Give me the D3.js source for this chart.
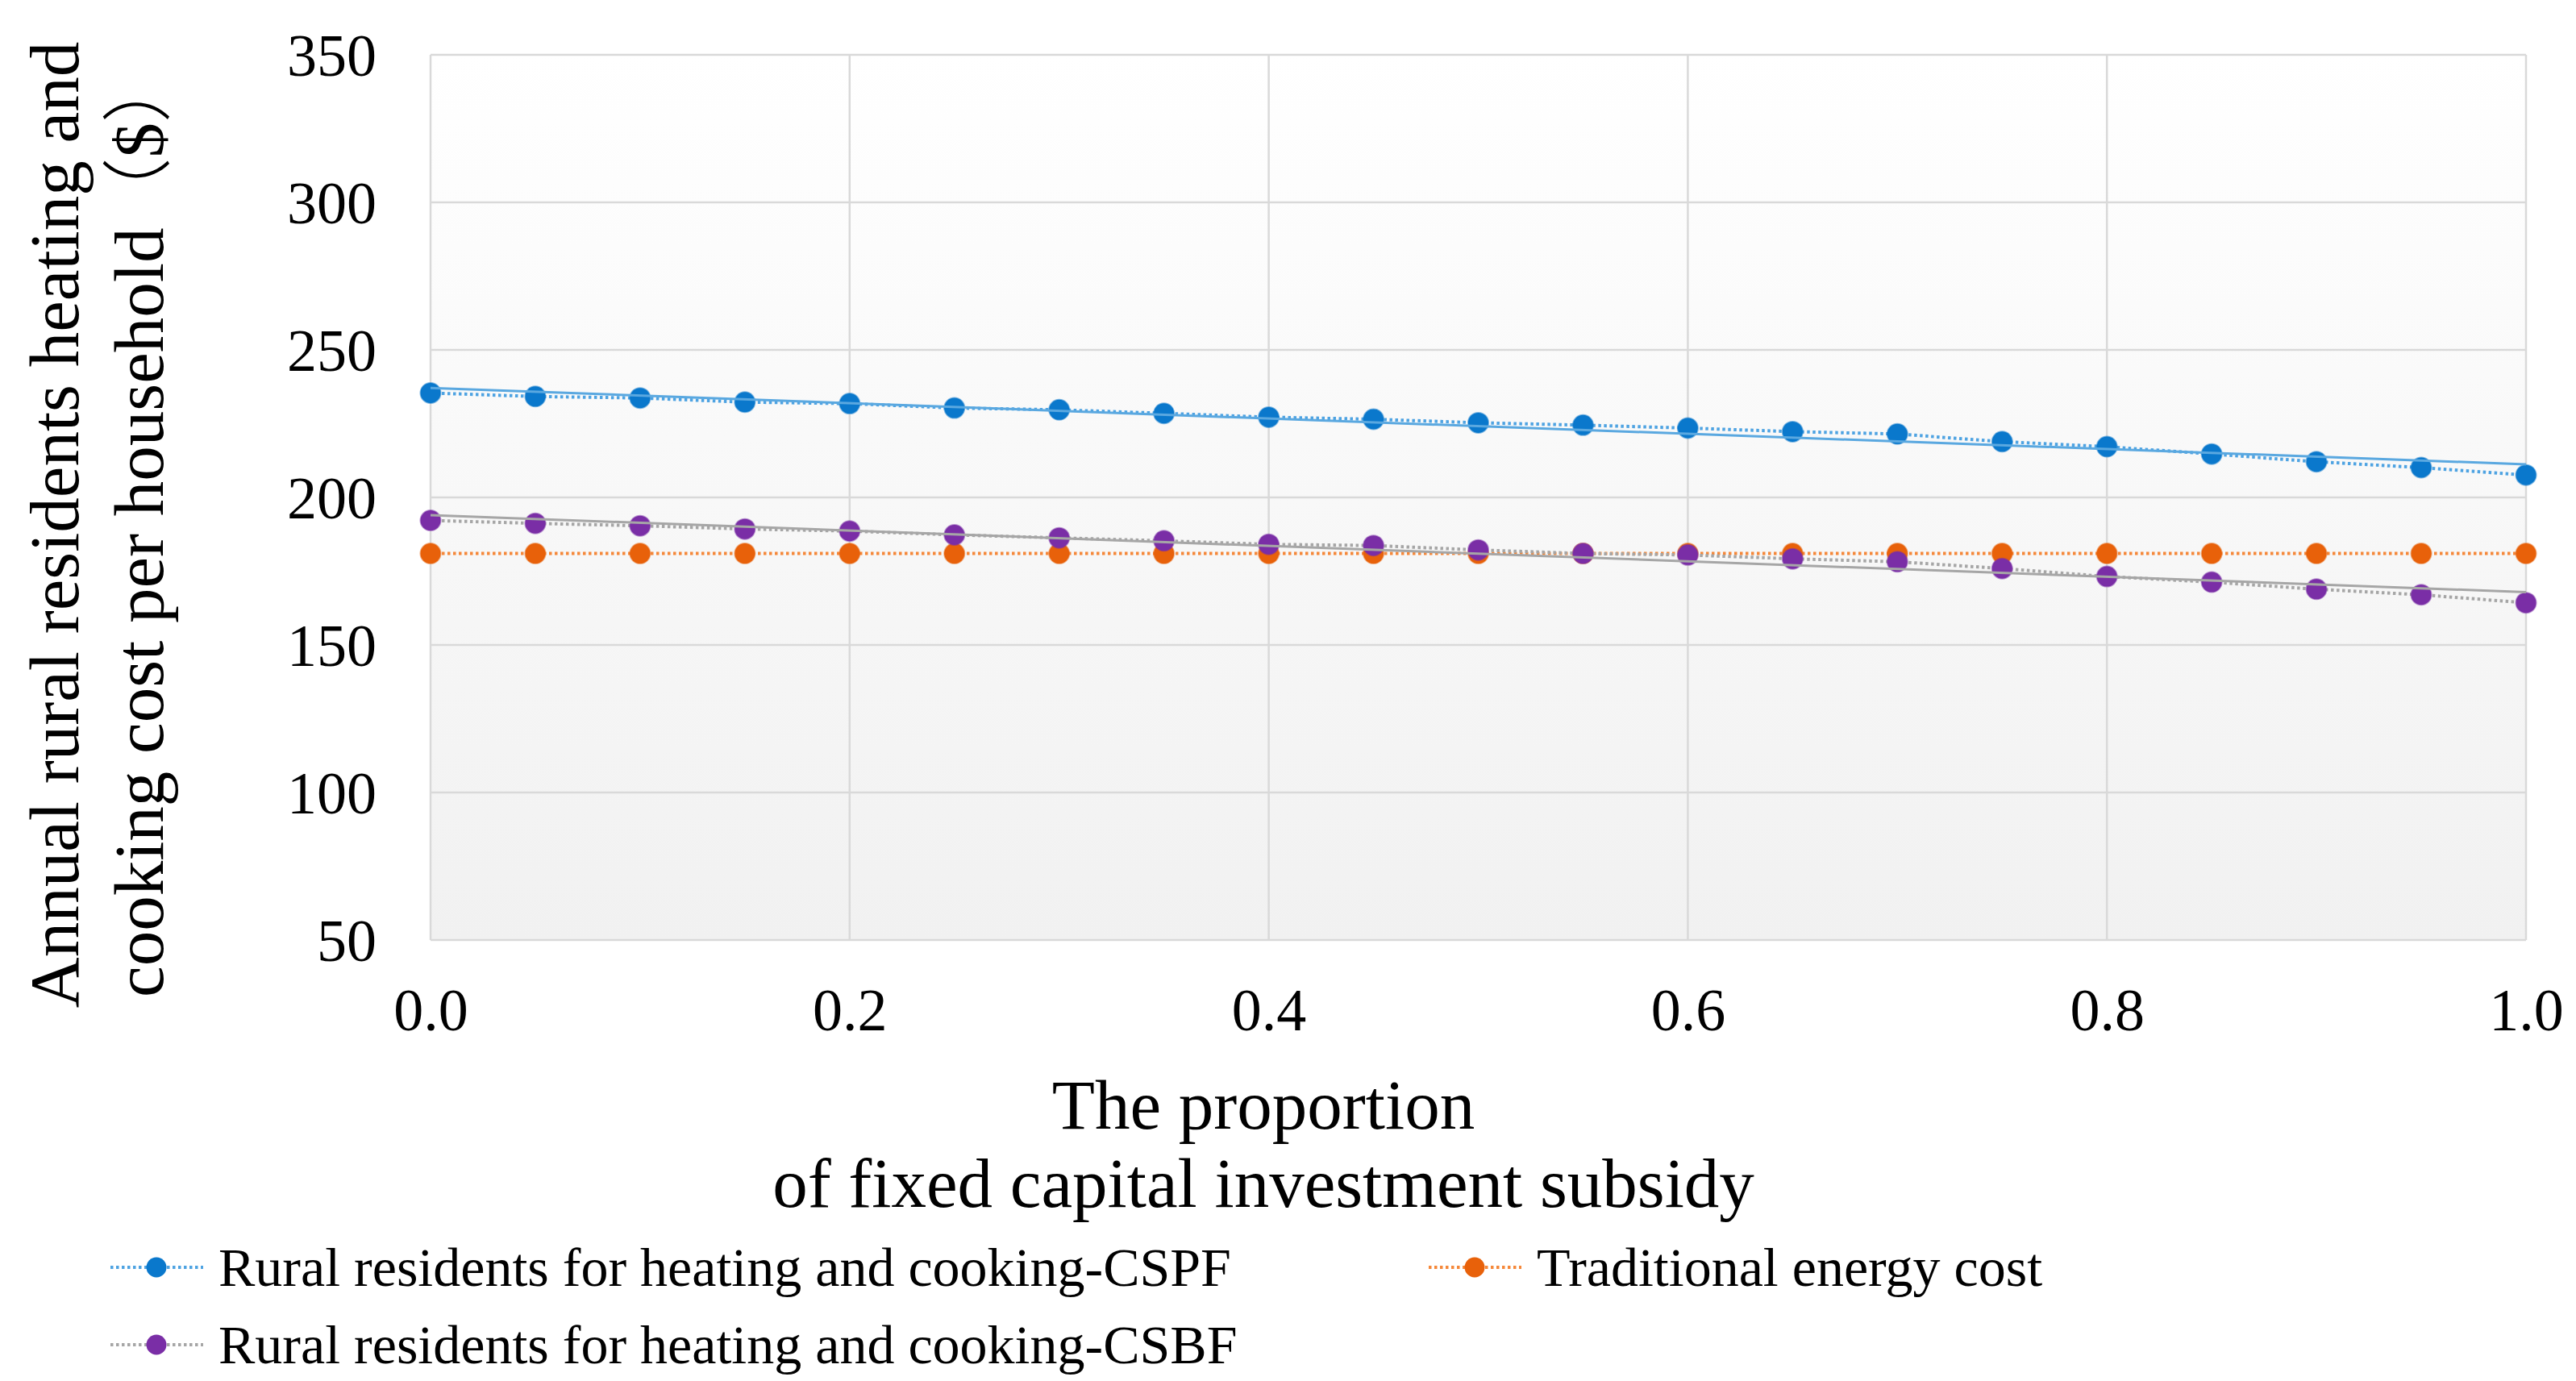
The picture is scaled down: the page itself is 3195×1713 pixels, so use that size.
<!DOCTYPE html>
<html>
<head>
<meta charset="utf-8">
<script src="https://cdn.jsdelivr.net/npm/d3@7"></script>
<style>
  body { margin: 0; background: #fff; }
  svg text { font-family: "Liberation Serif", "Times New Roman", serif; fill: #000; }
</style>
</head>
<body>
<div id="chart"></div>
<script>
// proportion of fixed capital investment subsidy
const subsidy = [0, 0.05, 0.1, 0.15, 0.2, 0.25, 0.3, 0.35, 0.4, 0.45, 0.5,
  0.55, 0.6, 0.65, 0.7, 0.75, 0.8, 0.85, 0.9, 0.95, 1.0];

const cspf = [235.4, 234.2, 233.7, 232.3, 231.8, 230.3, 229.7, 228.5, 227.2, 226.5, 225.3,
  224.5, 223.5, 222.3, 221.5, 218.9, 217.2, 214.7, 212.1, 210.1, 207.6];

const traditional = [181, 181, 181, 181, 181, 181, 181, 181, 181, 181, 181,
  181, 181, 181, 181, 181, 181, 181, 181, 181, 181];

const csbf = [192.2, 191.2, 190.4, 189.3, 188.6, 187.3, 186.3, 185.3, 184.1, 183.7, 182.2,
  181.0, 180.5, 179.2, 178.2, 175.9, 173.2, 171.3, 168.9, 167.0, 164.3];

const yTicks = [50, 100, 150, 200, 250, 300, 350];
const xTicks = [0, 0.2, 0.4, 0.6, 0.8, 1.0];

const seriesNames = [
  'Rural residents for heating and cooking-CSPF',
  'Traditional energy cost',
  'Rural residents for heating and cooking-CSBF'
];

const W = 3195, H = 1713;
const plot = { left: 534, right: 3133, top: 68, bottom: 1166 };

const svg = d3.select('#chart').append('svg')
  .attr('width', W)
  .attr('height', H);

const x = d3.scaleLinear().domain([0, 1]).range([plot.left, plot.right]);
const y = d3.scaleLinear().domain([50, 350]).range([plot.bottom, plot.top]);

// plot area background gradient
const defs = svg.append('defs');
const grad = defs.append('linearGradient')
  .attr('id', 'bg').attr('x1', 0).attr('y1', 0).attr('x2', 0).attr('y2', 1);
grad.append('stop').attr('offset', '0%').attr('stop-color', '#ffffff');
grad.append('stop').attr('offset', '100%').attr('stop-color', '#f1f1f1');

svg.append('rect')
  .attr('x', plot.left).attr('y', plot.top)
  .attr('width', plot.right - plot.left)
  .attr('height', plot.bottom - plot.top)
  .attr('fill', 'url(#bg)');

// gridlines
svg.append('g').selectAll('line')
  .data(yTicks).enter().append('line')
  .attr('x1', plot.left).attr('x2', plot.right)
  .attr('y1', d => y(d)).attr('y2', d => y(d))
  .attr('stroke', '#d9d9d9').attr('stroke-width', 2.5);

svg.append('g').selectAll('line')
  .data(xTicks).enter().append('line')
  .attr('x1', d => x(d)).attr('x2', d => x(d))
  .attr('y1', plot.top).attr('y2', plot.bottom)
  .attr('stroke', '#d9d9d9').attr('stroke-width', 2.5);

// axes (labels only)
const yAxis = svg.append('g')
  .attr('transform', `translate(${plot.left - 67},0)`)
  .call(d3.axisLeft(y).tickValues(yTicks).tickSize(0).tickPadding(0));
yAxis.select('.domain').remove();
yAxis.selectAll('text')
  .attr('font-size', 74)
  .attr('dy', '0.34em')
  .style('font-family', '"Liberation Serif", serif');

const xAxis = svg.append('g')
  .attr('transform', `translate(0,${plot.bottom})`)
  .call(d3.axisBottom(x).tickValues(xTicks).tickFormat(d3.format('.1f')).tickSize(0).tickPadding(0));
xAxis.select('.domain').remove();
xAxis.selectAll('text')
  .attr('font-size', 74)
  .attr('y', 112)
  .attr('dy', 0)
  .style('font-family', '"Liberation Serif", serif');

// axis titles
const xTitle = svg.append('text')
  .attr('text-anchor', 'middle')
  .attr('font-size', 87);
xTitle.append('tspan').attr('x', 1567).attr('y', 1400).text('The proportion');
xTitle.append('tspan').attr('x', 1567).attr('y', 1497).text('of fixed capital investment subsidy');

const yTitle = svg.append('text')
  .attr('text-anchor', 'middle')
  .attr('font-size', 87)
  .attr('transform', 'rotate(-90)');
yTitle.append('tspan').attr('x', -651).attr('y', 97).text('Annual rural residents heating and');
const l2 = yTitle.append('tspan').attr('x', -651).attr('y', 202);
l2.append('tspan').text('cooking cost per household');
l2.append('tspan').style('font-family', '"Noto Sans CJK SC"').style('font-weight', 300).text('（');
l2.append('tspan').text('$');
l2.append('tspan').style('font-family', '"Noto Sans CJK SC"').style('font-weight', 300).text('）');

// series
const series = [
  { name: seriesNames[0], values: cspf, marker: '#0a78cc', line: '#4ea3e2', trend: '#5aa8e0' },
  { name: seriesNames[1], values: traditional, marker: '#e8610a', line: '#f5883a', trend: null },
  { name: seriesNames[2], values: csbf, marker: '#7a2ea6', line: '#a6a6a6', trend: '#a6a6a6' }
];

const line = d3.line()
  .x((d, i) => x(subsidy[i]))
  .y(d => y(d));

series.forEach(s => {
  svg.append('path')
    .datum(s.values)
    .attr('d', line)
    .attr('fill', 'none')
    .attr('stroke', s.line)
    .attr('stroke-width', 4)
    .attr('stroke-dasharray', '3.5 3.5');

  svg.append('g').selectAll('circle')
    .data(s.values).enter().append('circle')
    .attr('cx', (d, i) => x(subsidy[i]))
    .attr('cy', d => y(d))
    .attr('r', 12.5)
    .attr('fill', s.marker)
    .attr('stroke', s.marker)
    .attr('stroke-opacity', 0.5)
    .attr('stroke-width', 2);
});

// linear trendlines (least squares over the plotted points)
function fit(values) {
  const n = values.length;
  const mx = d3.mean(subsidy), my = d3.mean(values);
  let sxy = 0, sxx = 0;
  for (let i = 0; i < n; i++) {
    sxy += (subsidy[i] - mx) * (values[i] - my);
    sxx += (subsidy[i] - mx) * (subsidy[i] - mx);
  }
  const b = sxy / sxx;
  return [[0, my - b * mx], [1, my + b * (1 - mx)]];
}

series.filter(s => s.trend).forEach(s => {
  const pts = fit(s.values);
  svg.append('line')
    .attr('x1', x(pts[0][0])).attr('y1', y(pts[0][1]))
    .attr('x2', x(pts[1][0])).attr('y2', y(pts[1][1]))
    .attr('stroke', s.trend)
    .attr('stroke-width', 3);
});

// legend
const legendItems = [
  { s: series[0], x: 137, y: 1572 },
  { s: series[1], x: 1772, y: 1572 },
  { s: series[2], x: 137, y: 1668 }
];

const lg = svg.append('g').selectAll('g')
  .data(legendItems).enter().append('g')
  .attr('transform', d => `translate(${d.x},${d.y})`);

lg.append('line')
  .attr('x1', 0).attr('x2', 115)
  .attr('y1', 0).attr('y2', 0)
  .attr('stroke', d => d.s.line)
  .attr('stroke-width', 4)
  .attr('stroke-dasharray', '3.5 3.5');

lg.append('circle')
  .attr('cx', 57).attr('cy', 0).attr('r', 12.5)
  .attr('fill', d => d.s.marker);

lg.append('text')
  .attr('x', 134)
  .attr('y', 23)
  .attr('font-size', 68)
  .text(d => d.s.name);
</script>
</body>
</html>
